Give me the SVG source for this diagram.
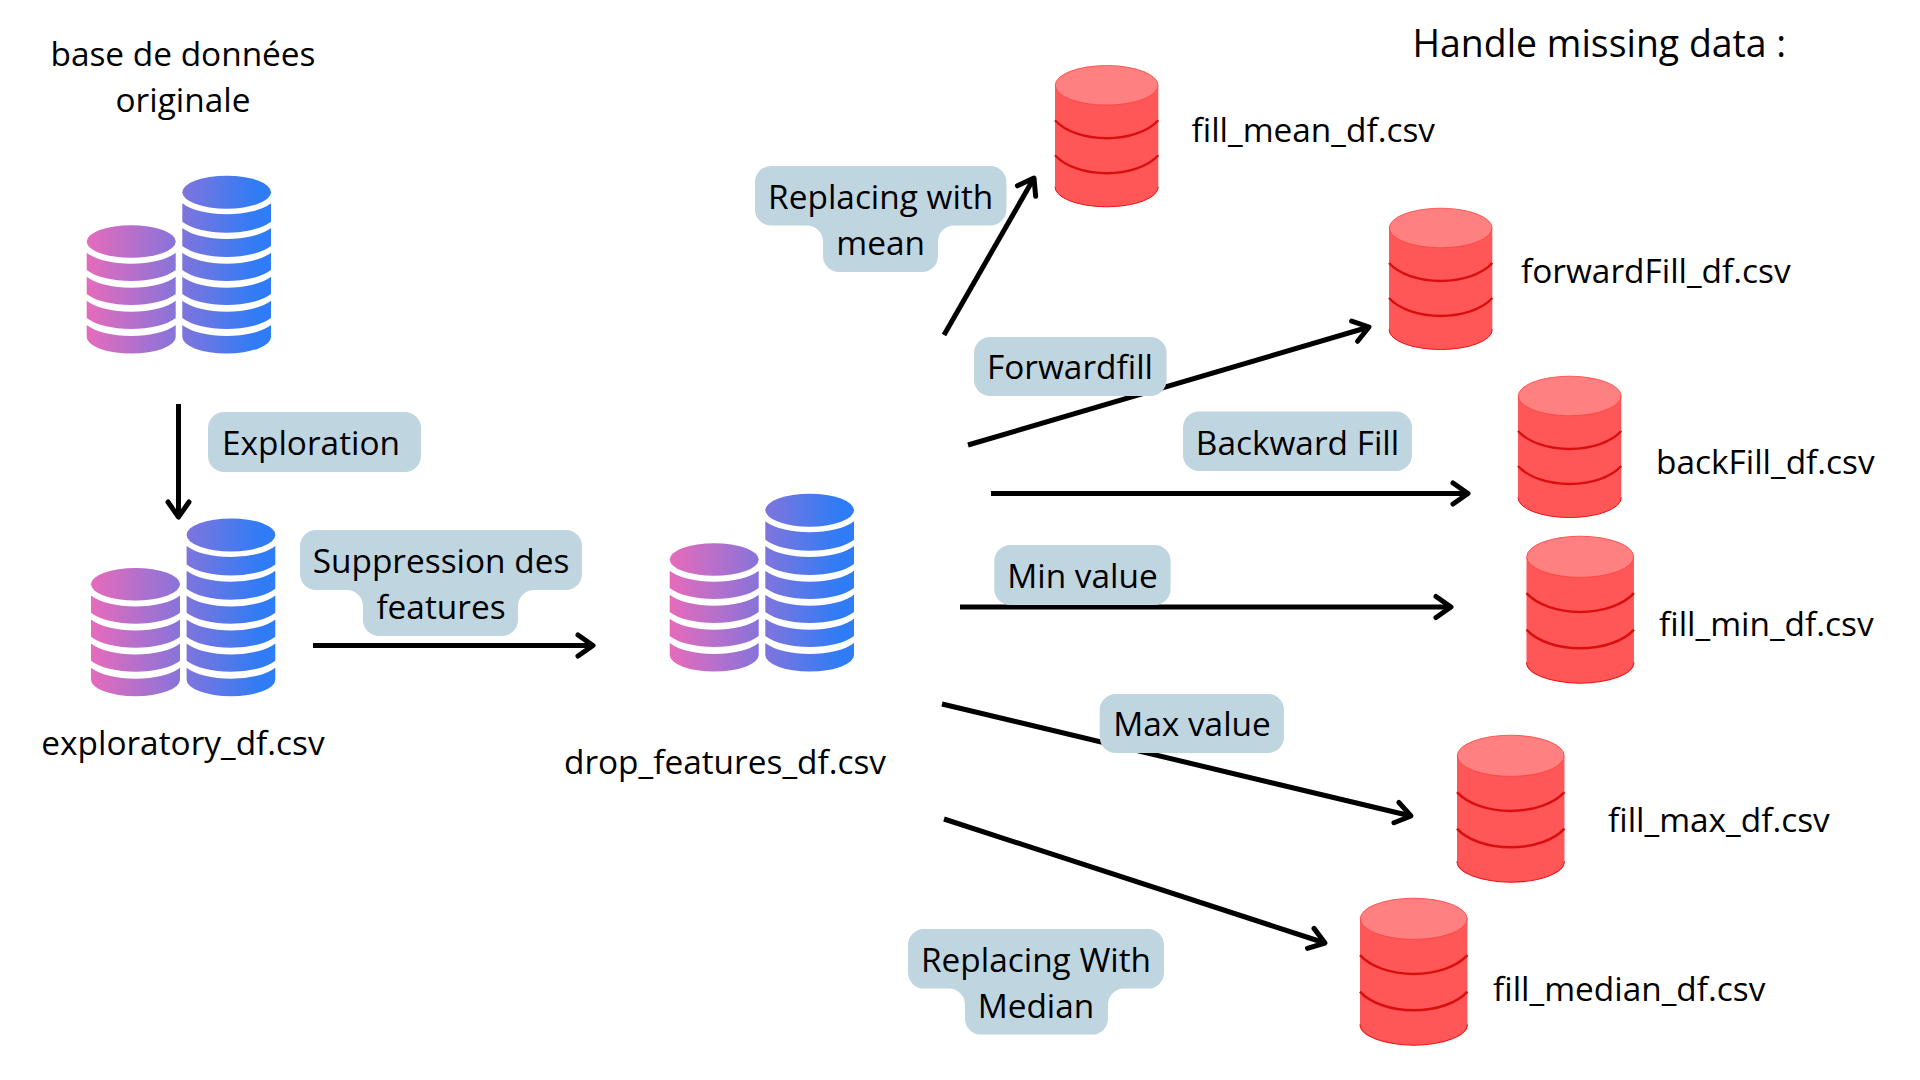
<svg xmlns="http://www.w3.org/2000/svg" xmlns:xlink="http://www.w3.org/1999/xlink" width="1920" height="1080" viewBox="0 0 1920 1080">
<style>
text{font-family:"Open Sans","Noto Sans","Liberation Sans",sans-serif;font-size:33.4px;fill:#000}
.c{text-anchor:middle}
.pill{fill:#bfd5e0}
.arrow{fill:none;stroke:#000;stroke-width:5;marker-end:url(#head)}
</style>
<defs>
<linearGradient id="g" gradientUnits="userSpaceOnUse" x1="86.7" y1="0" x2="271" y2="0">
<stop offset="0" stop-color="#e76bbb"/><stop offset="0.92" stop-color="#2f7cf6"/>
</linearGradient>
<marker id="head" markerUnits="userSpaceOnUse" orient="auto" markerWidth="30" markerHeight="30" refX="22" refY="15" viewBox="0 0 30 30" overflow="visible">
<path d="M7 4.5L22 15L7 25.5" fill="none" stroke="#000" stroke-width="5" stroke-linecap="round" stroke-linejoin="round"/>
</marker>
<g id="stack" fill="url(#g)">
<ellipse cx="226.65" cy="192.2" rx="44.35" ry="16.5"/>
<ellipse cx="131.2" cy="241.5" rx="44.5" ry="16.2"/>
<path d="M182.3 203.3A50 20.4 0 0 0 271 203.3V221.7A50 20.4 0 0 1 182.3 221.7Z"/>
<path d="M182.3 228A50 20.4 0 0 0 271 228V246A50 20.4 0 0 1 182.3 246Z"/>
<path d="M182.3 252.7A50 20.4 0 0 0 271 252.7V270A50 20.4 0 0 1 182.3 270Z"/>
<path d="M182.3 276.7A50 20.4 0 0 0 271 276.7V294A50 20.4 0 0 1 182.3 294Z"/>
<path d="M182.3 300.7A50 20.4 0 0 0 271 300.7V318A50 20.4 0 0 1 182.3 318Z"/>
<path d="M182.3 325A50 20.4 0 0 0 271 325V337A44.35 16.5 0 0 1 182.3 337Z"/>
<path d="M86.7 252.7A50 20.4 0 0 0 175.7 252.7V270A50 20.4 0 0 1 86.7 270Z"/>
<path d="M86.7 276.7A50 20.4 0 0 0 175.7 276.7V294A50 20.4 0 0 1 86.7 294Z"/>
<path d="M86.7 300.7A50 20.4 0 0 0 175.7 300.7V318A50 20.4 0 0 1 86.7 318Z"/>
<path d="M86.7 325A50 20.4 0 0 0 175.7 325V337A44.5 16.5 0 0 1 86.7 337Z"/>
</g>
<g id="cyl">
<path d="M0 20V121.5A51.65 20 0 0 0 103.3 121.5V20Z" fill="#ff5757"/>
<path d="M0 121.5A51.65 20 0 0 0 103.3 121.5" fill="none" stroke="#e81414" stroke-width="1"/>
<path d="M0 55A58 33 0 0 0 103.3 55M0 90A58 33 0 0 0 103.3 90" fill="none" stroke="#d90f0f" stroke-width="2.4"/>
<ellipse cx="51.65" cy="20" rx="51.4" ry="19.8" fill="#ff8080" stroke="#ff4040" stroke-width="0.8"/>
</g>
</defs>
<rect width="1920" height="1080" fill="#fff"/>

<g id="connectors">
<path class="arrow" d="M178.5 404V517"/>
<path class="arrow" d="M313 645.500H593"/>
<path class="arrow" d="M944 335L1034 178"/>
<path class="arrow" d="M968 445L1369 327"/>
<path class="arrow" d="M991 493.500H1468"/>
<path class="arrow" d="M960 607H1451"/>
<path class="arrow" d="M942 704L1411 816"/>
<path class="arrow" d="M944 819L1325 943"/>
</g>

<g id="title-original"><text class="c" x="183" y="66">base de données</text><text class="c" x="183" y="112">originale</text></g>
<g id="title-handle"><text x="1412.500" y="57" style="font-size:37.400px">Handle missing data :</text></g>

<g id="db-original"><use href="#stack"/></g>
<g id="db-exploratory"><use href="#stack" transform="translate(4.3 342.7)"/><text class="c" x="183" y="755">exploratory_df.csv</text></g>
<g id="db-drop"><use href="#stack" transform="translate(583 318)"/><text class="c" x="725" y="774">drop_features_df.csv</text></g>

<g id="db-mean"><use href="#cyl" transform="translate(1055 65.3)"/><text x="1191.500" y="142">fill_mean_df.csv</text></g>
<g id="db-forward"><use href="#cyl" transform="translate(1389 208)"/><text x="1521" y="283">forwardFill_df.csv</text></g>
<g id="db-back"><use href="#cyl" transform="translate(1518 376)"/><text x="1656" y="474">backFill_df.csv</text></g>
<g id="db-min"><use href="#cyl" transform="translate(1526.5 536) scale(1.04)"/><text x="1659" y="635.500">fill_min_df.csv</text></g>
<g id="db-max"><use href="#cyl" transform="translate(1457 735) scale(1.04)"/><text x="1608" y="832">fill_max_df.csv</text></g>
<g id="db-median"><use href="#cyl" transform="translate(1360 898) scale(1.04)"/><text x="1493" y="1001">fill_median_df.csv</text></g>

<g id="label-exploration"><rect class="pill" x="208" y="412" width="213" height="60" rx="16"/><text class="c" x="311" y="455">Exploration</text></g>
<g id="label-suppression">
<path class="pill" d="M316 530H566A16 16 0 0 1 582 546V574A16 16 0 0 1 566 590H534A16 16 0 0 0 518 606V620A16 16 0 0 1 502 636H379A16 16 0 0 1 363 620V606A16 16 0 0 0 347 590H316A16 16 0 0 1 300 574V546A16 16 0 0 1 316 530Z"/>
<text class="c" x="441" y="573">Suppression des</text><text class="c" x="441" y="618.500">features</text></g>
<g id="label-mean">
<path class="pill" d="M771 166H990.400A16 16 0 0 1 1006.400 182V209.500A16 16 0 0 1 990.400 225.500H954A16 16 0 0 0 938 241.500V256A16 16 0 0 1 922 272H839A16 16 0 0 1 823 256V241.500A16 16 0 0 0 807 225.500H771A16 16 0 0 1 755 209.500V182A16 16 0 0 1 771 166Z"/>
<text class="c" x="880.700" y="209">Replacing with</text><text class="c" x="880.700" y="255">mean</text></g>
<g id="label-forward"><rect class="pill" x="974" y="337" width="192.600" height="59" rx="16"/><text class="c" x="1070" y="378.600">Forwardfill</text></g>
<g id="label-backward"><rect class="pill" x="1183" y="411.500" width="229" height="59.500" rx="16"/><text class="c" x="1297.500" y="455">Backward Fill</text></g>
<g id="label-min"><rect class="pill" x="994.300" y="545" width="176.300" height="60" rx="16"/><text class="c" x="1082.500" y="588">Min value</text></g>
<g id="label-max"><rect class="pill" x="1099.700" y="694" width="184.300" height="59" rx="16"/><text class="c" x="1192" y="736">Max value</text></g>
<g id="label-median">
<path class="pill" d="M924 929H1148A16 16 0 0 1 1164 945V972.600A16 16 0 0 1 1148 988.600H1124A16 16 0 0 0 1108 1004.600V1018.600A16 16 0 0 1 1092 1034.600H981A16 16 0 0 1 965 1018.600V1004.600A16 16 0 0 0 949 988.600H924A16 16 0 0 1 908 972.600V945A16 16 0 0 1 924 929Z"/>
<text class="c" x="1036" y="972">Replacing With</text><text class="c" x="1036" y="1018">Median</text></g>
</svg>
